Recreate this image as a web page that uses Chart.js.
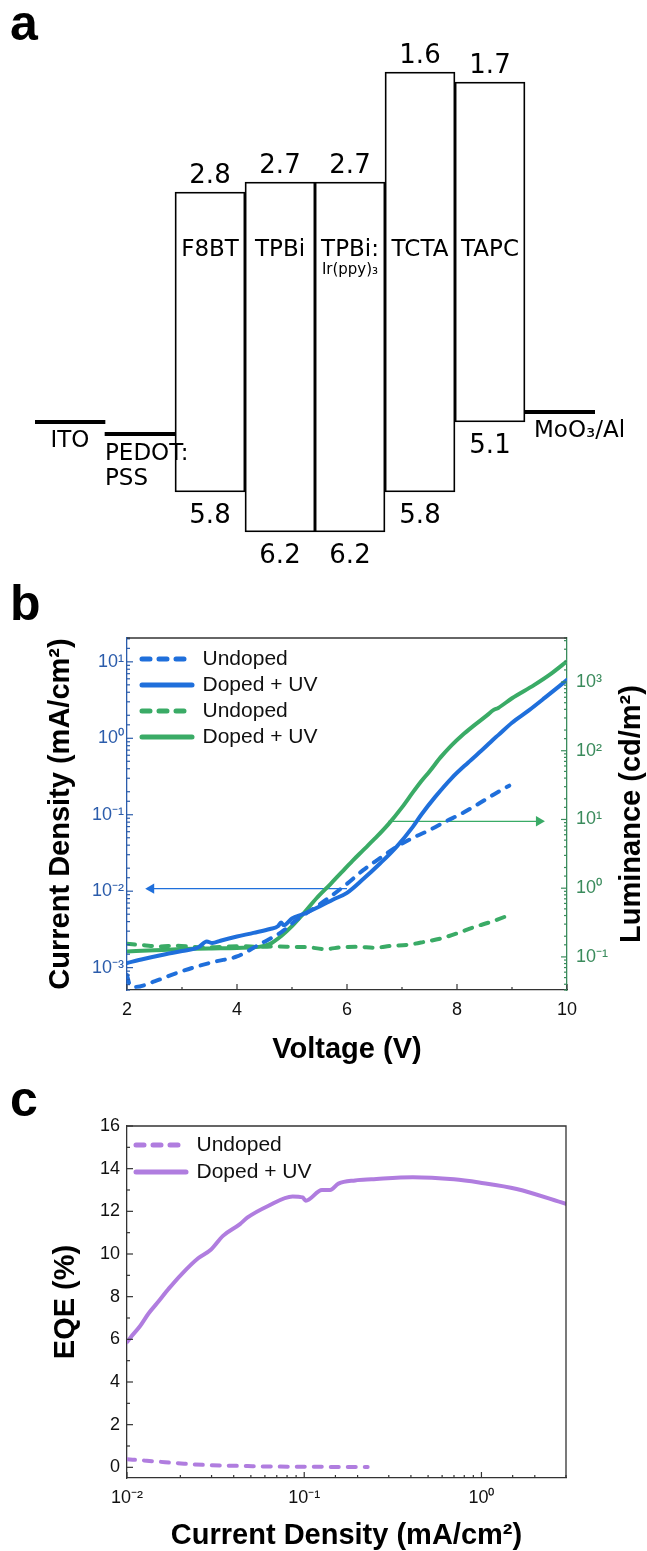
<!DOCTYPE html>
<html>
<head>
<meta charset="utf-8">
<title>Energy levels, J-V-L and EQE</title>
<script src="https://cdn.jsdelivr.net/npm/chart.js@4.4.1/dist/chart.umd.min.js"></script>
<style>
  body { margin: 0; background: #fff; }
  #page { position: relative; width: 647px; height: 1551px; }
  canvas { position: absolute; left: 0; }
</style>
</head>
<body>
<div id="page">
  <canvas id="levelChart" width="647" height="580" style="top:0"></canvas>
  <canvas id="jvlChart" width="647" height="500" style="top:580px"></canvas>
  <canvas id="eqeChart" width="647" height="471" style="top:1080px"></canvas>
</div>
<script>
// panel a: device stack, energy levels in eV
const stack = ["ITO", "PEDOT:PSS", "F8BT", "TPBi", "TPBi:Ir(ppy)3", "TCTA", "TAPC", "MoO3/Al"];
const lumo = [null, null, 2.8, 2.7, 2.7, 1.6, 1.7, null];
const homo = [null, null, 5.8, 6.2, 6.2, 5.8, 5.1, null];
const workFunction = [5.1, 5.22, null, null, null, null, null, 5.0];

// panel b: current density (mA/cm2) and luminance (cd/m2) vs voltage
const voltJUndoped = [2.0, 2.05, 2.15, 2.5, 2.8, 3.2, 3.6, 4.0, 4.4, 4.8, 5.1, 5.4, 5.7, 6.0, 6.3, 6.6, 6.9, 7.2, 7.5, 7.8, 8.1, 8.4, 8.7, 8.95];
const jUndoped = [8.0e-4, 6.0e-4, 5.6e-4, 6.6e-4, 8.0e-4, 1.0e-3, 1.2e-3, 1.4e-3, 2.0e-3, 2.9e-3, 4.3e-3, 6.0e-3, 8.5e-3, 1.25e-2, 1.9e-2, 2.7e-2, 3.8e-2, 5.0e-2, 6.3e-2, 8.2e-2, 0.105, 0.14, 0.19, 0.24];
const voltJDoped = [2.0, 2.3, 2.7, 3.0, 3.3, 3.45, 3.55, 3.7, 4.0, 4.3, 4.6, 4.75, 4.8, 4.85, 5.0, 5.2, 5.5, 5.75, 6.0, 6.3, 6.6, 6.9, 7.2, 7.35, 7.6, 7.9, 8.2, 8.5, 8.65, 8.75, 9.0, 9.3, 9.6, 10.0];
const jDoped = [1.15e-3, 1.3e-3, 1.5e-3, 1.65e-3, 1.85e-3, 2.2e-3, 2.1e-3, 2.25e-3, 2.55e-3, 2.85e-3, 3.2e-3, 3.5e-3, 3.9e-3, 3.6e-3, 4.4e-3, 5.0e-3, 6.3e-3, 7.8e-3, 9.5e-3, 1.45e-2, 2.3e-2, 3.8e-2, 7.0e-2, 0.1, 0.17, 0.30, 0.48, 0.75, 0.95, 1.1, 1.6, 2.3, 3.4, 5.8];
const voltLUndoped = [2.0, 2.3, 2.6, 2.9, 3.2, 3.5, 3.8, 4.1, 4.4, 4.7, 5.0, 5.3, 5.6, 5.9, 6.2, 6.5, 6.8, 7.1, 7.4, 7.7, 8.0, 8.3, 8.6, 9.0];
const lumUndoped = [0.155, 0.148, 0.142, 0.146, 0.14, 0.138, 0.141, 0.143, 0.14, 0.142, 0.14, 0.138, 0.13, 0.138, 0.14, 0.136, 0.145, 0.15, 0.165, 0.185, 0.22, 0.27, 0.32, 0.42];
const voltLDoped = [2.0, 2.5, 3.0, 3.5, 4.0, 4.4, 4.6, 4.8, 5.0, 5.2, 5.45, 5.7, 5.9, 6.1, 6.3, 6.5, 6.75, 7.0, 7.2, 7.35, 7.5, 7.7, 7.9, 8.1, 8.3, 8.55, 8.66, 8.75, 9.0, 9.4, 9.7, 10.0];
const lumDoped = [0.12, 0.125, 0.13, 0.133, 0.135, 0.14, 0.155, 0.2, 0.28, 0.42, 0.72, 1.15, 1.7, 2.5, 3.6, 5.2, 8.5, 15, 25, 36, 50, 80, 120, 170, 230, 330, 390, 420, 580, 900, 1300, 2000];
// axis arrows (start, head)
const arrowJVolt = [6.0, 2.44];
const arrowJLevel = [0.0108, 0.0108];
const arrowLVolt = [6.75, 9.49];
const arrowLLevel = [9.4, 9.4];

// panel c: EQE (%) vs current density (mA/cm2)
const jEqeUndoped = [0.010, 0.0125, 0.0164, 0.021, 0.028, 0.037, 0.048, 0.063, 0.082, 0.11, 0.15, 0.19, 0.228];
const eqeUndoped = [0.38, 0.32, 0.24, 0.17, 0.11, 0.08, 0.06, 0.04, 0.03, 0.025, 0.02, 0.02, 0.02];
const jEqeDoped = [0.010, 0.0105, 0.0118, 0.0132, 0.0148, 0.0173, 0.0203, 0.0252, 0.0297, 0.0348, 0.0434, 0.0477, 0.0625, 0.086, 0.098, 0.102, 0.126, 0.14, 0.156, 0.194, 0.24, 0.41, 0.70, 0.97, 1.58, 3.0];
const eqeDoped = [5.87, 6.1, 6.6, 7.2, 7.7, 8.4, 9.05, 9.8, 10.2, 10.85, 11.4, 11.7, 12.25, 12.7, 12.65, 12.5, 13.0, 13.0, 13.3, 13.45, 13.5, 13.6, 13.5, 13.35, 13.05, 12.35];

const blue = "#1f6fdb";
const blueAxis = "#2b5cab";
const green = "#3aab66";
const greenAxis = "#3a8b5c";
const purple = "#b07ddf";
const dashed = [8, 9];
const electrodeHalf = 0.016;

Chart.defaults.font.family = "'Liberation Sans', Arial, sans-serif";
Chart.defaults.color = "#111";

const SUP = { "-": "\u207b", "0": "\u2070", "1": "\u00b9", "2": "\u00b2", "3": "\u00b3", "4": "\u2074", "5": "\u2075", "6": "\u2076", "7": "\u2077", "8": "\u2078", "9": "\u2079" };

function powLabel(value) {
    const e = Math.log10(value);
    if (Math.abs(e - Math.round(e)) > 1e-6) return "";
    return "10" + String(Math.round(e)).split("").map(c => SUP[c]).join("");
}

function points(xs, ys) {
    return xs.map((x, i) => ({ x, y: ys[i] }));
}

const panelTag = {
    id: "panelTag",
    afterDraw(chart, args, opts) {
        const ctx = chart.ctx;
        ctx.save();
        ctx.font = "bold 50px 'Liberation Sans', Arial, sans-serif";
        ctx.fillStyle = "#000";
        ctx.textAlign = "left";
        ctx.textBaseline = "alphabetic";
        ctx.fillText(opts.text, 10, opts.baseline);
        ctx.restore();
    }
};

// inward tick marks plus the top (and right) frame lines
const axisFrame = {
    id: "axisFrame",
    afterDatasetsDraw(chart, args, opts) {
        const { ctx, chartArea: a } = chart;
        ctx.save();
        ctx.lineWidth = 1.2;
        Object.values(chart.scales).forEach(scale => {
            ctx.strokeStyle = scale.options.border.color;
            scale.ticks.forEach(tick => {
                const p = scale.getPixelForValue(tick.value);
                const len = tick.label === "" ? 3 : 6;
                ctx.beginPath();
                if (scale.position === "left") {
                    ctx.moveTo(a.left, p);
                    ctx.lineTo(a.left + len, p);
                } else if (scale.position === "right") {
                    ctx.moveTo(a.right, p);
                    ctx.lineTo(a.right - len, p);
                } else {
                    ctx.moveTo(p, a.bottom);
                    ctx.lineTo(p, a.bottom - len);
                }
                ctx.stroke();
            });
        });
        ctx.strokeStyle = opts.color;
        ctx.lineWidth = 1.3;
        ctx.beginPath();
        ctx.moveTo(a.left, a.top);
        ctx.lineTo(a.right, a.top);
        if (opts.right) ctx.lineTo(a.right, a.bottom);
        ctx.stroke();
        ctx.restore();
    }
};

// put the in-plot legend where the original one sits
const legendNudge = {
    id: "legendNudge",
    afterLayout(chart, args, opts) {
        const legend = chart.legend;
        const area = chart.chartArea;
        legend.left = area.left + opts.dx;
        legend.top = area.top + opts.dy;
        legend.right = area.right;
        legend.bottom = area.bottom;
    }
};

const rightTitle = {
    id: "rightTitle",
    afterDraw(chart, args, opts) {
        const { ctx, chartArea } = chart;
        ctx.save();
        ctx.translate(opts.x, (chartArea.top + chartArea.bottom) / 2);
        ctx.rotate(-Math.PI / 2);
        ctx.font = "bold 29px 'Liberation Sans', Arial, sans-serif";
        ctx.fillStyle = "#000";
        ctx.textAlign = "center";
        ctx.textBaseline = "middle";
        ctx.fillText(opts.text, 0, 0);
        ctx.restore();
    }
};

const sub3 = s => s.replace("3", "\u2083");

const levelText = {
    id: "levelText",
    afterDatasetsDraw(chart) {
        const { ctx, chartArea } = chart;
        const x = chart.scales.x;
        const y = chart.scales.y;
        const lines = chart.getDatasetMeta(1).data;
        const nameY = chartArea.top + 244;
        ctx.save();
        ctx.fillStyle = "#000";
        ctx.textBaseline = "alphabetic";
        stack.forEach((name, i) => {
            const cx = x.getPixelForValue(i);
            if (lumo[i] !== null) {
                ctx.textAlign = "center";
                ctx.font = "26px 'DejaVu Sans'";
                ctx.fillText(lumo[i].toFixed(1), cx, y.getPixelForValue(lumo[i]) - 9);
                ctx.fillText(homo[i].toFixed(1), cx, y.getPixelForValue(homo[i]) + 31);
                const [host, dopant] = name.split(":");
                ctx.font = "23px 'DejaVu Sans'";
                ctx.fillText(dopant ? host + ":" : host, cx, nameY);
                if (dopant) {
                    ctx.font = "15px 'DejaVu Sans'";
                    ctx.fillText(sub3(dopant), cx, nameY + 18);
                }
            } else if (workFunction[i] !== null) {
                const line = lines[i];
                const left = line.x - line.width / 2;
                const lineY = y.getPixelForValue(workFunction[i]);
                ctx.font = "23px 'DejaVu Sans'";
                if (i === 0) {
                    ctx.textAlign = "center";
                    ctx.fillText(name, cx, lineY + 25);
                } else if (name.includes(":")) {
                    const [a, b] = name.split(":");
                    ctx.textAlign = "left";
                    ctx.fillText(a + ":", left, lineY + 26);
                    ctx.fillText(b, left, lineY + 51);
                } else {
                    ctx.textAlign = "left";
                    ctx.fillText(sub3(name), left + 9, lineY + 25);
                }
            }
        });
        ctx.restore();
    }
};

function legendOptions(padding) {
    return {
        position: "chartArea",
        align: "start",
        labels: {
            usePointStyle: true,
            pointStyle: "line",
            pointStyleWidth: 50,
            padding: padding,
            color: "#111",
            font: { size: 21 },
            generateLabels(chart) {
                return Chart.defaults.plugins.legend.labels.generateLabels(chart)
                    .filter(item => item.text)
                    .map(item => {
                        const ds = chart.data.datasets[item.datasetIndex];
                        item.lineDash = ds.borderDash || [];
                        item.lineWidth = 5;
                        item.lineCap = "round";
                        item.strokeStyle = ds.borderColor;
                        return item;
                    });
            }
        }
    };
}

const noGrid = { display: false, drawTicks: false };
const tickFont = { size: 18 };
const titleFont = { size: 29, weight: "bold" };

// ---- a ----
new Chart(document.getElementById("levelChart"), {
    type: "bar",
    data: {
        labels: stack,
        datasets: [
            {
                label: "levels",
                data: stack.map((_, i) => (lumo[i] === null ? null : [lumo[i], homo[i]])),
                backgroundColor: "#fff",
                borderColor: "#000",
                borderWidth: 1.8,
                borderSkipped: false
            },
            {
                label: "electrodes",
                data: stack.map((_, i) => (workFunction[i] === null ? null : [workFunction[i] - electrodeHalf, workFunction[i] + electrodeHalf])),
                backgroundColor: "#000",
                borderWidth: 0
            }
        ]
    },
    options: {
        responsive: false,
        animation: false,
        layout: { padding: { left: 35, right: 52, top: 12, bottom: 8 } },
        datasets: { bar: { grouped: false, categoryPercentage: 1, barPercentage: 1 } },
        scales: {
            x: { display: false },
            y: { display: false, reverse: true, min: 1, max: 6.6 }
        },
        plugins: {
            legend: { display: false },
            tooltip: { enabled: false },
            panelTag: { text: "a", baseline: 40 }
        }
    },
    plugins: [panelTag, levelText]
});

// ---- b ----
new Chart(document.getElementById("jvlChart"), {
    type: "line",
    data: {
        datasets: [
            { label: "Undoped", data: points(voltJUndoped, jUndoped), yAxisID: "y", borderColor: blue, borderDash: dashed },
            { label: "Doped + UV", data: points(voltJDoped, jDoped), yAxisID: "y", borderColor: blue },
            { label: "Undoped", data: points(voltLUndoped, lumUndoped), yAxisID: "y2", borderColor: green, borderDash: dashed },
            { label: "Doped + UV", data: points(voltLDoped, lumDoped), yAxisID: "y2", borderColor: green },
            {
                label: "", data: points(arrowJVolt, arrowJLevel), yAxisID: "y", borderColor: blue, borderWidth: 1.3,
                borderCapStyle: "butt", pointRadius: [0, 6], pointStyle: "triangle", rotation: -90,
                pointBackgroundColor: blue, pointBorderWidth: 0
            },
            {
                label: "", data: points(arrowLVolt, arrowLLevel), yAxisID: "y2", borderColor: green, borderWidth: 1.3,
                borderCapStyle: "butt", pointRadius: [0, 6], pointStyle: "triangle", rotation: 90,
                pointBackgroundColor: green, pointBorderWidth: 0
            }
        ]
    },
    options: {
        responsive: false,
        animation: false,
        layout: { padding: { top: 58 } },
        elements: {
            line: { borderWidth: 4, borderCapStyle: "round", cubicInterpolationMode: "monotone" },
            point: { radius: 0 }
        },
        scales: {
            x: {
                type: "linear", min: 2, max: 10,
                afterFit: s => { s.height = 90; },
                grid: noGrid,
                border: { color: "#333", width: 1.3 },
                ticks: { stepSize: 1, padding: 9, color: "#111", font: tickFont, callback: v => (v % 2 === 0 ? v : "") },
                title: { display: true, text: "Voltage (V)", color: "#000", font: titleFont, padding: { top: 0, bottom: 13 } }
            },
            y: {
                type: "logarithmic", position: "left", min: 5.1e-4, max: 20.5,
                afterFit: s => { s.width = 127; },
                grid: noGrid,
                border: { color: blueAxis, width: 1.3 },
                ticks: { autoSkip: false, padding: 3, color: blueAxis, font: tickFont, callback: powLabel },
                title: { display: true, text: "Current Density (mA/cm\u00b2)", color: "#000", font: titleFont, padding: { top: 44, bottom: 0 } }
            },
            y2: {
                type: "logarithmic", position: "right", min: 0.033, max: 4370,
                afterFit: s => { s.width = 80; },
                grid: noGrid,
                border: { color: greenAxis, width: 1.3 },
                ticks: { autoSkip: false, padding: 9, color: greenAxis, font: tickFont, callback: powLabel }
            }
        },
        plugins: {
            legend: legendOptions(5),
            tooltip: { enabled: false },
            panelTag: { text: "b", baseline: 40 },
            axisFrame: { color: "#333", right: false },
            legendNudge: { dx: 10, dy: 5.5 },
            rightTitle: { text: "Luminance (cd/m\u00b2)", x: 632 }
        }
    },
    plugins: [panelTag, axisFrame, legendNudge, rightTitle]
});

// ---- c ----
new Chart(document.getElementById("eqeChart"), {
    type: "line",
    data: {
        datasets: [
            { label: "Undoped", data: points(jEqeUndoped, eqeUndoped), borderColor: purple, borderDash: dashed },
            { label: "Doped + UV", data: points(jEqeDoped, eqeDoped), borderColor: purple }
        ]
    },
    options: {
        responsive: false,
        animation: false,
        layout: { padding: { top: 46, right: 81 } },
        elements: {
            line: { borderWidth: 4, borderCapStyle: "round", cubicInterpolationMode: "monotone" },
            point: { radius: 0 }
        },
        scales: {
            x: {
                type: "logarithmic", min: 0.01, max: 3,
                afterFit: s => { s.height = 73; },
                grid: noGrid,
                border: { color: "#333", width: 1.3 },
                ticks: { autoSkip: false, maxRotation: 0, padding: 9, color: "#111", font: tickFont, callback: powLabel },
                title: { display: true, text: "Current Density (mA/cm\u00b2)", color: "#000", font: titleFont, padding: { top: 0, bottom: -2 } }
            },
            y: {
                type: "linear", min: -0.5, max: 16,
                afterFit: s => { s.width = 127; },
                grid: noGrid,
                border: { color: "#333", width: 1.3 },
                ticks: { stepSize: 1, includeBounds: false, autoSkip: false, padding: 7, color: "#111", font: tickFont, callback: v => (v >= 0 && v % 2 === 0 ? v : "") },
                title: { display: true, text: "EQE (%)", color: "#000", font: titleFont, padding: { top: 49, bottom: 0 } }
            }
        },
        plugins: {
            legend: legendOptions(6),
            tooltip: { enabled: false },
            panelTag: { text: "c", baseline: 36 },
            axisFrame: { color: "#333", right: true },
            legendNudge: { dx: 3, dy: 2.5 }
        }
    },
    plugins: [panelTag, axisFrame, legendNudge]
});
</script>
</body>
</html>
